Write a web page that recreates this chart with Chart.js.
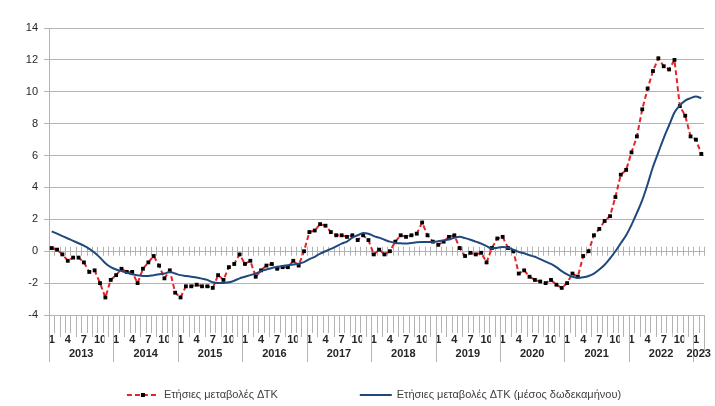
<!DOCTYPE html>
<html>
<head>
<meta charset="utf-8">
<title>Ετήσιες μεταβολές ΔΤΚ</title>
<script src="https://cdn.jsdelivr.net/npm/chart.js@4.4.1/dist/chart.umd.min.js"></script>
<style>
  html, body { margin: 0; padding: 0; background: #fff; }
  #wrap { width: 716px; height: 406px; }
</style>
</head>
<body>
<div id="wrap"><canvas id="cpiChart" width="716" height="406"></canvas></div>
<script>
// Δεδομένα
const years = ['2013', '2014', '2015', '2016', '2017', '2018', '2019', '2020', '2021', '2022', '2023'];
const monthsInYear = [12, 12, 12, 12, 12, 12, 12, 12, 12, 12, 2];
const shownMonths = ['1', '4', '7', '10'];
const yTicks = [-4, -2, 0, 2, 4, 6, 8, 10, 12, 14];

// Ετήσιες μεταβολές ΔΤΚ (%)
const annualChange = [
  0.2, 0.1, -0.2, -0.6, -0.4, -0.4, -0.7, -1.3, -1.2, -2.0, -2.9, -1.8,
  -1.5, -1.1, -1.3, -1.3, -2.0, -1.1, -0.7, -0.3, -0.9, -1.7, -1.2, -2.6,
  -2.9, -2.2, -2.2, -2.1, -2.2, -2.2, -2.3, -1.5, -1.8, -1.0, -0.8, -0.2,
  -0.8, -0.6, -1.6, -1.2, -0.9, -0.8, -1.1, -1.0, -1.0, -0.6, -0.9, 0.0,
  1.2, 1.3, 1.7, 1.6, 1.2, 1.0, 1.0, 0.9, 1.0, 0.7, 1.0, 0.7,
  -0.2, 0.1, -0.2, 0.0, 0.6, 1.0, 0.9, 1.0, 1.1, 1.8, 1.0, 0.6,
  0.4, 0.6, 0.9, 1.0, 0.2, -0.3, -0.1, -0.2, -0.1, -0.7, 0.2, 0.8,
  0.9, 0.2, 0.0, -1.4, -1.2, -1.6, -1.8, -1.9, -2.0, -1.8, -2.1, -2.3,
  -2.0, -1.4, -1.6, -0.3, 0.0, 1.0, 1.4, 1.9, 2.2, 3.4, 4.8, 5.1,
  6.2, 7.2, 8.9, 10.2, 11.3, 12.1, 11.6, 11.4, 12.0, 9.1, 8.5, 7.2,
  7.0, 6.1
];

// Ετήσιες μεταβολές ΔΤΚ (μέσος δωδεκαμήνου)
const annualChangeAvg = [
  1.25, 1.1, 0.95, 0.8, 0.65, 0.5, 0.35, 0.15, -0.1, -0.4, -0.75, -1.0,
  -1.15, -1.25, -1.35, -1.45, -1.5, -1.55, -1.55, -1.5, -1.45, -1.4, -1.3, -1.4,
  -1.5, -1.55, -1.6, -1.65, -1.72, -1.8, -1.95, -2.0, -2.0, -1.95, -1.85, -1.7,
  -1.6, -1.5, -1.4, -1.25, -1.15, -1.05, -0.98, -0.92, -0.88, -0.83, -0.78, -0.68,
  -0.5, -0.35, -0.15, 0.0, 0.15, 0.3, 0.48, 0.6, 0.85, 1.0, 1.15, 1.1,
  0.95, 0.85, 0.72, 0.6, 0.52, 0.5, 0.48, 0.52, 0.56, 0.58, 0.58, 0.58,
  0.62, 0.68, 0.73, 0.85, 0.9, 0.82, 0.72, 0.6, 0.48, 0.32, 0.17, 0.22,
  0.26, 0.22, 0.1, -0.05, -0.13, -0.25, -0.35, -0.5, -0.65, -0.8, -1.0, -1.25,
  -1.45, -1.6, -1.67, -1.63, -1.55, -1.4, -1.15, -0.85, -0.45, 0.0, 0.5, 1.0,
  1.65, 2.4, 3.2, 4.2, 5.3, 6.2, 7.1, 7.9, 8.7, 9.15, 9.45, 9.6,
  9.7, 9.6
];

// Κατηγορίες (μήνες) από έτη
const categories = [];
const monthOf = [];
years.forEach((yr, k) => {
  for (let m = 1; m <= monthsInYear[k]; m++) {
    categories.push(yr + '-' + m);
    monthOf.push(String(m));
  }
});

const FONT = "'Liberation Sans', Arial, sans-serif";
const gridColor = '#b3b3b3';
const textColor = '#262626';

// Μικρές γραμμές μηνών (στο 0 και κάτω από τον άξονα) και διαχωριστικά ετών
const axisDecor = {
  id: 'axisDecor',
  beforeDraw(chart) {
    // γραμμές μηνών κάτω από τον άξονα, πριν από τις ετικέτες
    const xs = chart.scales.x;
    const ctx = chart.ctx;
    const step = xs.width / categories.length;
    ctx.save();
    ctx.strokeStyle = gridColor;
    ctx.lineWidth = 1;
    ctx.beginPath();
    for (let i = 0; i <= categories.length; i++) {
      const px = Math.round(xs.getPixelForValue(i) - step / 2) + 0.5;
      ctx.moveTo(px, xs.top);
      ctx.lineTo(px, xs.top + 22);
    }
    ctx.stroke();
    // πλαίσιο δεξιά
    ctx.strokeStyle = '#c8c8c8';
    ctx.beginPath();
    ctx.moveTo(715.5, 0);
    ctx.lineTo(715.5, chart.height);
    ctx.stroke();
    ctx.restore();
  },
  beforeDatasetsDraw(chart) {
    const xs = chart.scales.x;
    const ys = chart.scales.y;
    const ctx = chart.ctx;
    const step = xs.width / categories.length;
    const y0 = ys.getPixelForValue(0);
    ctx.save();
    ctx.strokeStyle = gridColor;
    ctx.lineWidth = 1;
    ctx.beginPath();
    for (let i = 0; i <= categories.length; i++) {
      const px = Math.round(xs.getPixelForValue(i) - step / 2) + 0.5;
      ctx.moveTo(px, y0 - 4.5);
      ctx.lineTo(px, y0 + 4.5);
    }
    ctx.stroke();
    ctx.restore();
  },
  afterDraw(chart) {
    const xs = chart.scales.x;
    const ctx = chart.ctx;
    const step = xs.width / categories.length;
    const top = xs.top;
    let start = 0;
    ctx.save();
    ctx.strokeStyle = gridColor;
    ctx.lineWidth = 1;
    ctx.fillStyle = textColor;
    ctx.font = 'bold 11px ' + FONT;
    ctx.textAlign = 'center';
    ctx.textBaseline = 'middle';
    years.forEach((yr, k) => {
      const n = monthsInYear[k];
      const x1 = xs.getPixelForValue(start) - step / 2;
      const x2 = xs.getPixelForValue(start + n - 1) + step / 2;
      ctx.beginPath();
      ctx.moveTo(Math.round(x1) + 0.5, top);
      ctx.lineTo(Math.round(x1) + 0.5, top + 47);
      if (k === years.length - 1) {
        ctx.moveTo(Math.round(x2) + 0.5, top);
        ctx.lineTo(Math.round(x2) + 0.5, top + 38);
      }
      ctx.stroke();
      ctx.fillText(yr, (x1 + x2) / 2, top + 39);
      start += n;
    });
    ctx.restore();
  }
};

// Υπόμνημα
const legendDecor = {
  id: 'legendDecor',
  afterDraw(chart) {
    const ctx = chart.ctx;
    const sets = chart.data.datasets;
    const cy = 395;
    ctx.save();
    ctx.font = '11px ' + FONT;
    ctx.textBaseline = 'middle';
    ctx.textAlign = 'left';
    const widths = sets.map(d => 32 + 5 + ctx.measureText(d.label).width);
    const gap = 82;
    let x = 374 - (widths[0] + gap + widths[1]) / 2;
    sets.forEach((d, i) => {
      ctx.strokeStyle = d.borderColor;
      ctx.lineWidth = d.borderWidth;
      ctx.setLineDash(d.borderDash || []);
      ctx.beginPath();
      ctx.moveTo(x, cy);
      ctx.lineTo(x + 32, cy);
      ctx.stroke();
      ctx.setLineDash([]);
      if (d.pointRadius > 0) {
        ctx.fillStyle = d.pointBackgroundColor;
        ctx.fillRect(x + 14, cy - 2, 4, 4);
      }
      ctx.fillStyle = '#404040';
      ctx.fillText(d.label, x + 37, cy);
      x += widths[i] + gap;
    });
    ctx.restore();
  }
};

new Chart(document.getElementById('cpiChart'), {
  type: 'line',
  data: {
    labels: categories,
    datasets: [
      {
        label: 'Ετήσιες μεταβολές ΔΤΚ',
        data: annualChange,
        borderColor: '#e2242b',
        borderWidth: 2,
        borderDash: [5, 3],
        pointStyle: 'rect',
        pointRadius: 2.7,
        pointBorderWidth: 0,
        pointBackgroundColor: '#000000',
        pointBorderColor: '#000000',
        tension: 0,
        order: 1
      },
      {
        label: 'Ετήσιες μεταβολές ΔΤΚ (μέσος δωδεκαμήνου)',
        data: annualChangeAvg,
        borderColor: '#1f497d',
        borderWidth: 2,
        pointRadius: 0,
        cubicInterpolationMode: 'monotone',
        order: 0
      }
    ]
  },
  options: {
    responsive: false,
    animation: false,
    layout: { padding: { top: 28, right: 12, bottom: 41, left: 0 } },
    plugins: {
      legend: { display: false },
      tooltip: { enabled: false }
    },
    scales: {
      x: {
        offset: true,
        afterFit(scale) { scale.height = 50; },
        grid: { display: false },
        border: { display: false },
        ticks: {
          autoSkip: false,
          maxRotation: 0,
          minRotation: 0,
          padding: 10,
          color: textColor,
          font: { family: FONT, size: 11, weight: 'bold' },
          showLabelBackdrop: true,
          backdropColor: '#ffffff',
          backdropPadding: { top: 0, bottom: 0, left: 1, right: 1 },
          callback: (v, i) => shownMonths.includes(monthOf[i]) ? monthOf[i] : ''
        }
      },
      y: {
        min: yTicks[0],
        max: yTicks[yTicks.length - 1],
        afterFit(scale) { scale.width = 49; },
        afterBuildTicks(scale) { scale.ticks = yTicks.map(v => ({ value: v })); },
        grid: { color: gridColor, tickLength: 5 },
        border: { color: gridColor },
        ticks: {
          padding: 6,
          color: textColor,
          font: { family: FONT, size: 11 }
        }
      }
    }
  },
  plugins: [axisDecor, legendDecor]
});
</script>
</body>
</html>
